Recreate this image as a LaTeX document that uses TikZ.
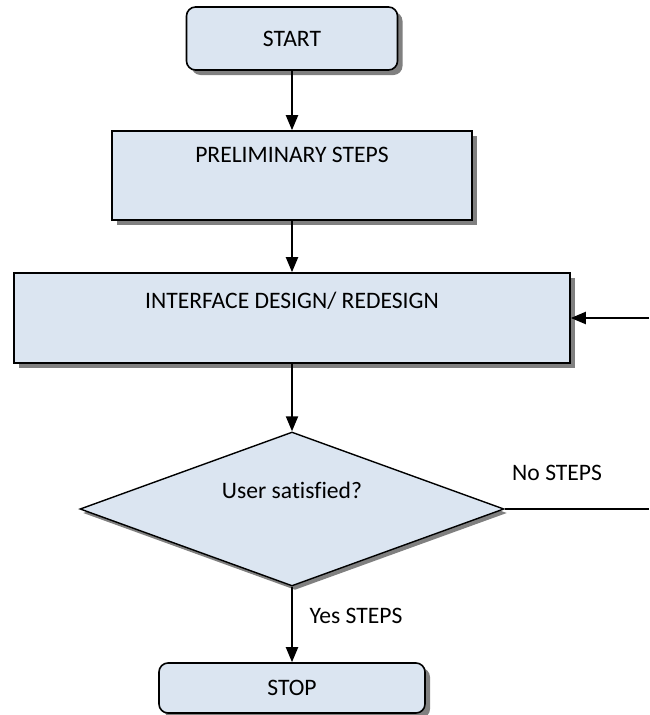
\documentclass[tikz,border=0pt]{standalone}
\usepackage{fontspec}
\setmainfont{Carlito}[Ligatures=NoCommon]
\usetikzlibrary{positioning,shapes.geometric,shadows,arrows.meta}
\definecolor{boxfill}{RGB}{219,229,241}

\begin{document}
\begin{tikzpicture}[x=1pt, y=-1pt, font=\fontsize{23.6}{28}\selectfont,
	boxshadow/.style={drop shadow={shadow xshift=5pt, shadow yshift=-5pt, fill=black!50, opacity=1}},
	termbox/.style={draw, line width=1.6pt, fill=boxfill, rounded corners=9pt, boxshadow, inner sep=0pt},
	procbox/.style={draw, line width=1.6pt, fill=boxfill, boxshadow, inner sep=0pt},
	decbox/.style={diamond, draw, line width=1.4pt, fill=boxfill, aspect=2.75, inner sep=0pt,
		drop shadow={shadow xshift=3pt, shadow yshift=-4pt, fill=black!50, opacity=1}},
	flowarrow/.style={line width=2pt, -{Triangle[length=15pt,width=12pt]}}]

		\useasboundingbox (0,0) rectangle (649,715);

		\node[termbox, minimum width=211pt, minimum height=63pt] (start) at (292,38.5) {START};

		\node[procbox, minimum width=360pt, minimum height=89pt] (prelim) at (292,175.5) {};
		\node[below=13pt of prelim.north] (prelimtext) {PRELIMINARY STEPS};

		\node[procbox, minimum width=556pt, minimum height=90pt] (design) at (292,318) {};
		\node[below=16pt of design.north] (designtext) {INTERFACE DESIGN/ REDESIGN};

		\node[decbox, minimum width=424pt, minimum height=154pt] (satisfied) at (292,509) {};
		\node[above=7pt of satisfied.center] (satisfiedtext) {User satisfied?};

		\node[termbox, minimum width=266pt, minimum height=50pt] (stop) at (292,688) {STOP};

		% loop back from the decision
		\coordinate (noend) at (649,509);
		\coordinate (backin) at (649,318);

		\draw[flowarrow] (start) -- (prelim);
		\draw[flowarrow] (prelim) -- (design);
		\draw[flowarrow] (design) -- (satisfied);
		\draw[flowarrow] (satisfied) -- (stop);
		\draw[line width=2pt] (satisfied.east) -- (noend);
		\draw[flowarrow] (backin) -- (design.east);

		\node[above right=25pt and 4pt of satisfied.east] (nolabel) {No STEPS};
		\node[below right=18pt and 14pt of satisfied.south] (yeslabel) {Yes STEPS};

\end{tikzpicture}
\end{document}
